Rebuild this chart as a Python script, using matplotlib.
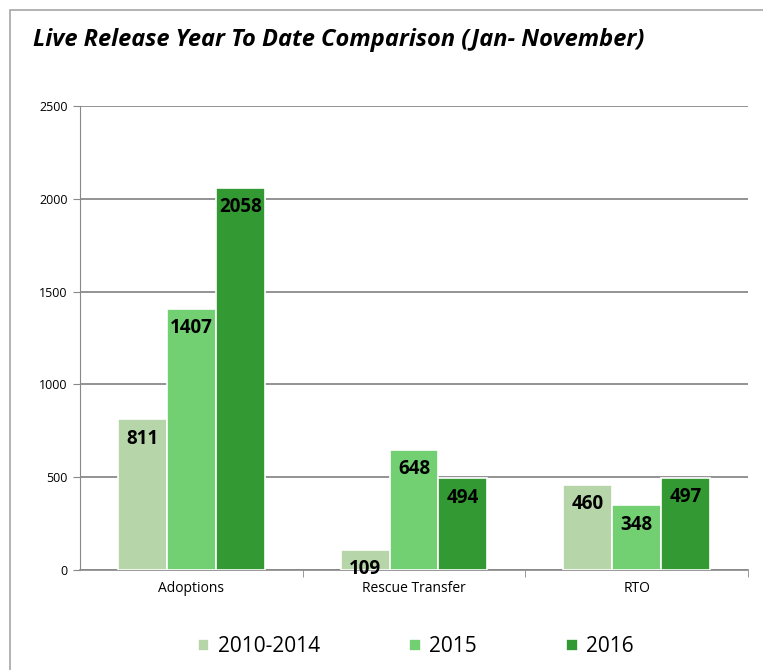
import numpy as np
import matplotlib.pyplot as plt
from matplotlib.patches import Rectangle

categories = ['Adoptions', 'Rescue Transfer', 'RTO']
series_names = ['2010-2014', '2015', '2016']
values_2010_2014 = [811, 109, 460]
values_2015 = [1407, 648, 348]
values_2016 = [2058, 494, 497]
colors = ['#b6d5a8', '#72d072', '#339933']

plt.rcParams['font.family'] = ['Open Sans', 'DejaVu Sans']

fig = plt.figure(figsize=(7.63, 6.70), dpi=100)
fig.patch.set_facecolor('white')
fig.add_artist(Rectangle((10 / 763, -0.01), 1.0, 1 - 10 / 670 + 0.01,
                         transform=fig.transFigure, fill=False,
                         edgecolor='#a6a6a6', linewidth=1.2))

ax = fig.add_axes([80 / 763, 1 - 570 / 670, 668 / 763, 464 / 670])
x = np.arange(len(categories))
w = 0.22
all_vals = [values_2010_2014, values_2015, values_2016]
for i, (vals, c, name) in enumerate(zip(all_vals, colors, series_names)):
    pos = x + (i - 1) * w
    bars = ax.bar(pos, vals, width=w, color=c, edgecolor='white', linewidth=1.2,
                  label=name, zorder=3)
    for b, v in zip(bars, vals):
        ax.text(b.get_x() + b.get_width() / 2, v - 50, str(v), ha='center', va='top',
                fontsize=13.5, fontweight='bold', color='black', zorder=4)

ax.set_xlim(-0.5, 2.5)
ax.set_ylim(0, 2500)
ax.set_yticks(range(0, 2501, 500))
ax.set_xticks(x)
ax.set_xticklabels(categories, fontsize=10)
ax.tick_params(axis='x', length=0, pad=8)
ax.tick_params(axis='y', labelsize=9, length=5, color='#888888', pad=4)
ax.set_xticks([0.5, 1.5, 2.5], minor=True)
ax.tick_params(axis='x', which='minor', length=5, color='#888888')
ax.grid(axis='y', color='#808080', linewidth=1.2, zorder=0)
for s in ['top', 'right']:
    ax.spines[s].set_visible(False)
ax.spines['left'].set_color('#888888')
ax.spines['bottom'].set_color('#888888')
ax.spines['bottom'].set_linewidth(1.2)

fig.text(33 / 763, 1 - 40 / 670, 'Live Release Year To Date Comparison (Jan- November)',
         fontsize=17, fontweight='bold', fontstyle='italic', va='center', ha='left')

handles, labels = ax.get_legend_handles_labels()
fig.legend(handles, labels, loc='center', bbox_to_anchor=(0.545, 1 - 647 / 670), ncol=3,
           frameon=False, fontsize=15, handlelength=0.55, handleheight=0.55,
           columnspacing=4.3, handletextpad=0.4)

fig.savefig('out.png', dpi=100)
